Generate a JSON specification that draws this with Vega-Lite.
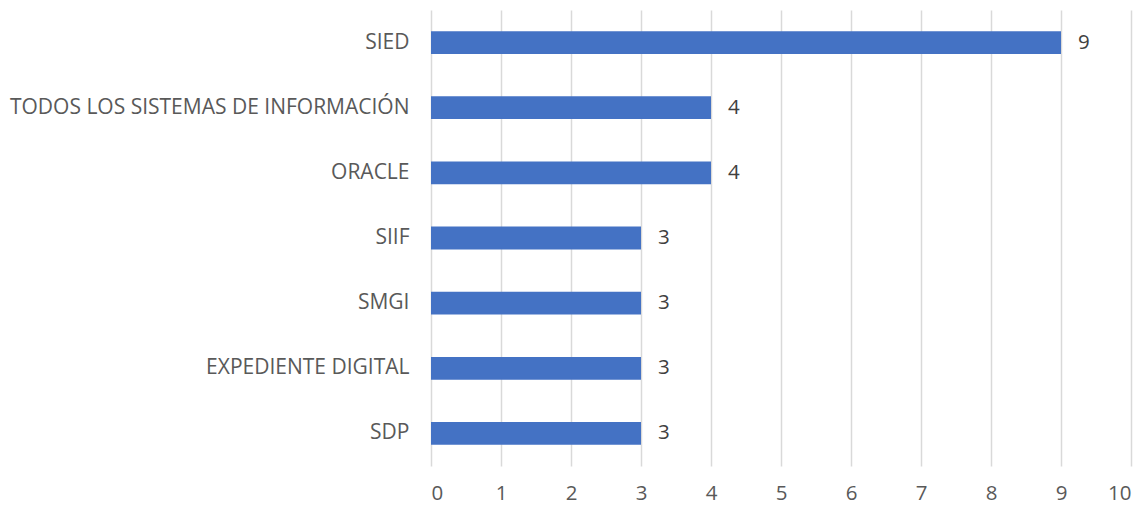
{
  "$schema": "https://vega.github.io/schema/vega-lite/v6.json",
  "width": 700,
  "height": 456,
  "autosize": {"type": "none"},
  "padding": {"left": 431, "top": 10, "right": 16, "bottom": 41},
  "background": "white",
  "config": {"view": {"stroke": null}, "font": "Open Sans"},
  "data": {"values": [
    {"sistema": "SIED", "valor": 9},
    {"sistema": "TODOS LOS SISTEMAS DE INFORMACIÓN", "valor": 4},
    {"sistema": "ORACLE", "valor": 4},
    {"sistema": "SIIF", "valor": 3},
    {"sistema": "SMGI", "valor": 3},
    {"sistema": "EXPEDIENTE DIGITAL", "valor": 3},
    {"sistema": "SDP", "valor": 3}
  ]},
  "encoding": {
    "y": {"field": "sistema", "type": "nominal", "sort": null, "title": null,
      "scale": {"paddingInner": 0.65, "paddingOuter": 0.325},
      "axis": {"domain": false, "ticks": false, "labelFontSize": 21, "labelColor": "#595959", "labelPadding": 22, "labelLimit": 440, "labelFont": "Open Sans"}},
    "x": {"field": "valor", "type": "quantitative", "title": null,
      "scale": {"domain": [0, 10]},
      "axis": {"domain": false, "ticks": false, "tickCount": 10, "labelFontSize": 20.5, "labelColor": "#595959", "labelPadding": 17, "gridColor": "#d9d9d9", "gridWidth": 1.5, "labelFont": "Open Sans"}}
  },
  "layer": [
    {"mark": {"type": "bar", "color": "#4472c4"}},
    {"mark": {"type": "text", "align": "left", "dx": 17, "fontSize": 20.5, "color": "#404040", "font": "Open Sans"},
     "encoding": {"text": {"field": "valor", "type": "quantitative"}}}
  ]
}
